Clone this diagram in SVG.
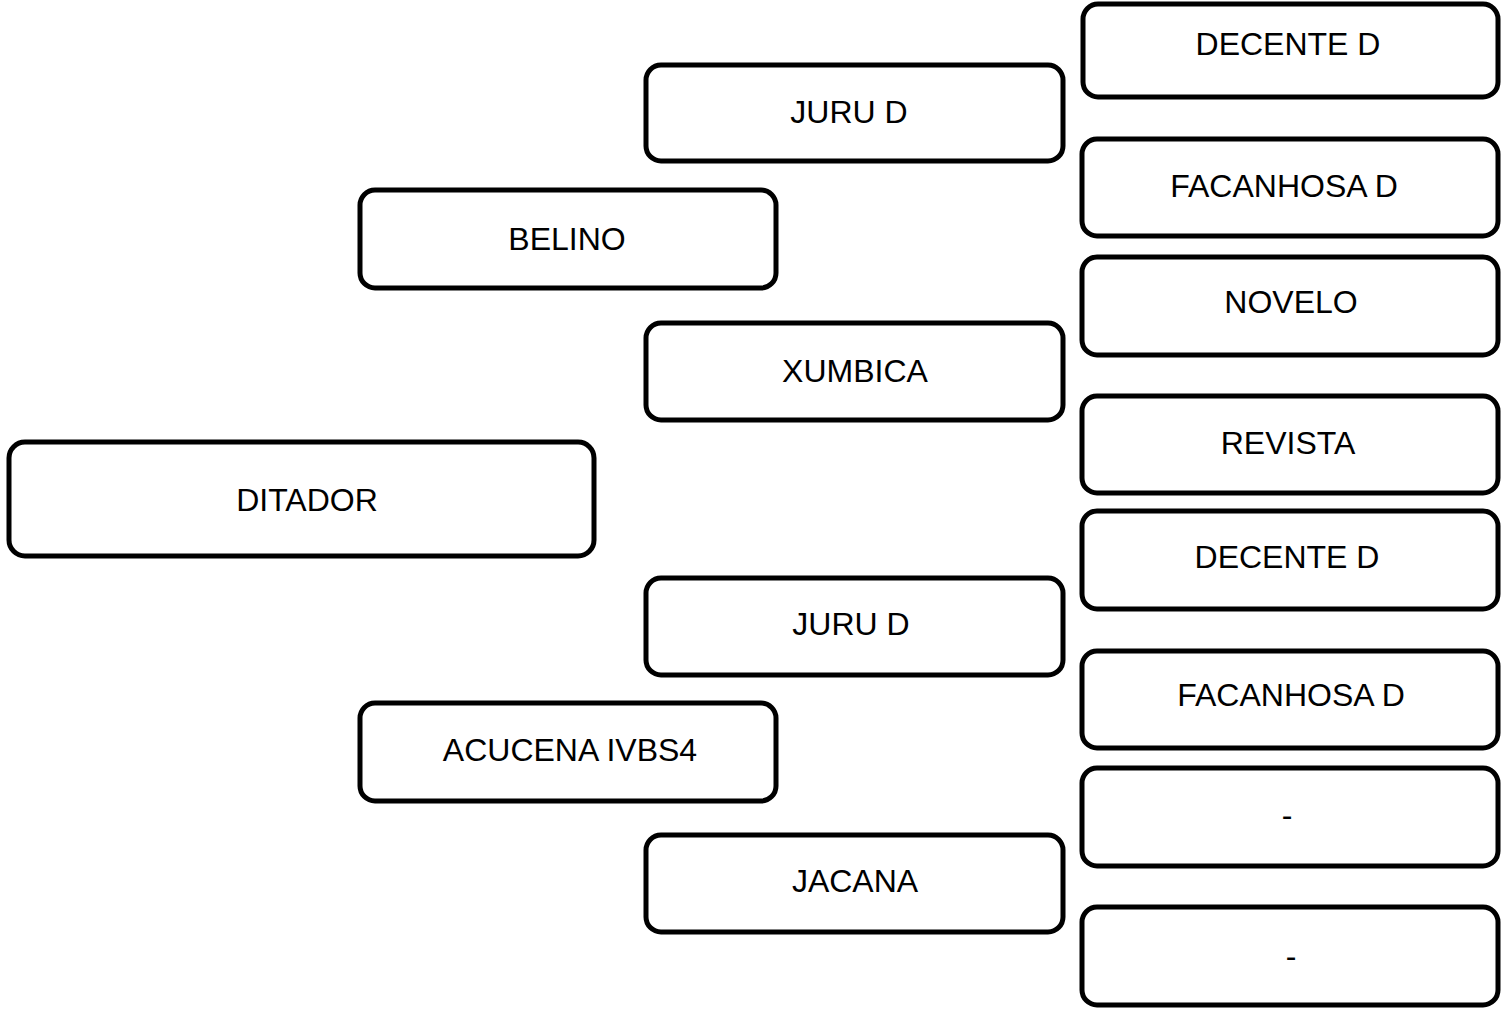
<svg xmlns="http://www.w3.org/2000/svg" width="1501" height="1011" viewBox="0 0 1501 1011">
<style>
.box{fill:#ffffff;stroke:#000000;stroke-width:5}
.lbl{font-family:"Liberation Sans",Arial,sans-serif;font-size:32px;fill:#000000;text-anchor:middle}
</style>
<rect width="1501" height="1011" fill="#ffffff"/>
<g id="connectors"></g>
<g id="n-ditador"><rect class="box" x="9" y="442" width="585" height="114" rx="16"/><text class="lbl" x="307" y="511">DITADOR</text></g>
<g id="n-belino"><rect class="box" x="360" y="190" width="416" height="98" rx="15"/><text class="lbl" x="567" y="250">BELINO</text></g>
<g id="n-acucena"><rect class="box" x="360" y="703" width="416" height="98" rx="15"/><text class="lbl" x="570" y="761">ACUCENA IVBS4</text></g>
<g id="n-juru1"><rect class="box" x="646" y="65" width="417" height="96" rx="15"/><text class="lbl" x="849" y="123">JURU D</text></g>
<g id="n-xumbica"><rect class="box" x="646" y="323" width="417" height="97" rx="15"/><text class="lbl" x="855" y="382">XUMBICA</text></g>
<g id="n-juru2"><rect class="box" x="646" y="578" width="417" height="97" rx="15"/><text class="lbl" x="851" y="635">JURU D</text></g>
<g id="n-jacana"><rect class="box" x="646" y="835" width="417" height="97" rx="15"/><text class="lbl" x="855" y="892">JACANA</text></g>
<g id="n-decente1"><rect class="box" x="1083" y="4" width="415" height="93" rx="15"/><text class="lbl" x="1288" y="55">DECENTE D</text></g>
<g id="n-facanhosa1"><rect class="box" x="1082" y="139" width="416" height="97" rx="15"/><text class="lbl" x="1284" y="197">FACANHOSA D</text></g>
<g id="n-novelo"><rect class="box" x="1082" y="257" width="416" height="98" rx="15"/><text class="lbl" x="1291" y="313">NOVELO</text></g>
<g id="n-revista"><rect class="box" x="1082" y="396" width="416" height="97" rx="15"/><text class="lbl" x="1288" y="454">REVISTA</text></g>
<g id="n-decente2"><rect class="box" x="1082" y="511" width="416" height="98" rx="15"/><text class="lbl" x="1287" y="568">DECENTE D</text></g>
<g id="n-facanhosa2"><rect class="box" x="1082" y="651" width="416" height="97" rx="15"/><text class="lbl" x="1291" y="706">FACANHOSA D</text></g>
<g id="n-unk1"><rect class="box" x="1082" y="768" width="416" height="98" rx="15"/><text class="lbl" x="1287" y="826">-</text></g>
<g id="n-unk2"><rect class="box" x="1082" y="907" width="416" height="98" rx="15"/><text class="lbl" x="1291" y="967">-</text></g>
</svg>
